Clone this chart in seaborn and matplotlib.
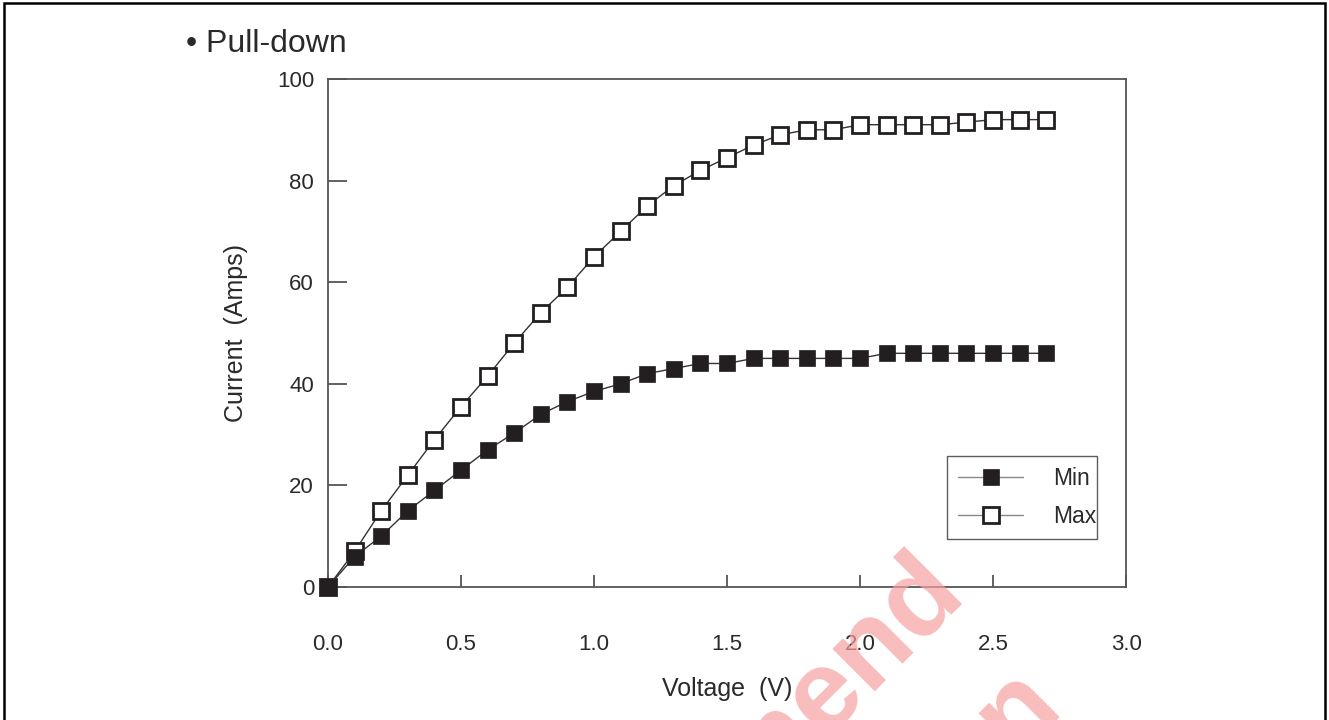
import matplotlib
matplotlib.use("Agg")
import matplotlib.pyplot as plt
import matplotlib.patches as mpatches
import seaborn as sns
import pandas as pd

# ---- data ----
voltage = [0.0, 0.1, 0.2, 0.3, 0.4, 0.5, 0.6, 0.7, 0.8, 0.9, 1.0, 1.1, 1.2, 1.3,
           1.4, 1.5, 1.6, 1.7, 1.8, 1.9, 2.0, 2.1, 2.2, 2.3, 2.4, 2.5, 2.6, 2.7]
current_min = [0, 6, 10, 15, 19, 23, 27, 30.3, 34, 36.5, 38.5, 40, 42, 43,
               44, 44, 45, 45, 45, 45, 45, 46, 46, 46, 46, 46, 46, 46]
current_max = [0, 7, 15, 22, 29, 35.5, 41.5, 48, 54, 59, 65, 70, 75, 79,
               82, 84.5, 87, 89, 90, 90, 91, 91, 91, 91, 91.5, 92, 92, 92]
series_names = ["Min", "Max"]
x_ticks = [0.0, 0.5, 1.0, 1.5, 2.0, 2.5, 3.0]
x_tick_labels = ["0.0", "0.5", "1.0", "1.5", "2.0", "2.5", "3.0"]
y_ticks = [0, 20, 40, 60, 80, 100]
y_tick_labels = ["0", "20", "40", "60", "80", "100"]
title_text = "\u2022 Pull-down"
x_label = "Voltage  (V)"
y_label = "Current  (Amps)"

sns.set_theme(style="white")
plt.rcParams["font.family"] = ["Liberation Sans", "DejaVu Sans"]

TXT = "#2a2a2a"
SPINE = "#555555"

fig = plt.figure(figsize=(13.29, 7.2), dpi=100)
ax = fig.add_axes([0.2468, 0.1847, 0.8473 - 0.2468, 0.8903 - 0.1847])

df_min = pd.DataFrame({"V": voltage, "I": current_min})
df_max = pd.DataFrame({"V": voltage, "I": current_max})

sns.lineplot(data=df_min, x="V", y="I", ax=ax, color="#333333", linewidth=1.0,
             marker="s", markersize=12, markerfacecolor="#231f20",
             markeredgecolor="#231f20", markeredgewidth=0.5, label=series_names[0],
             zorder=3, clip_on=False)
sns.lineplot(data=df_max, x="V", y="I", ax=ax, color="#333333", linewidth=1.0,
             marker="s", markersize=12, markerfacecolor="white",
             markeredgecolor="#231f20", markeredgewidth=2.0, label=series_names[1],
             zorder=4, clip_on=False)
# keep the min marker at origin on top, as in the reference
ax.lines[0].set_zorder(5)

ax.set_xlim(0, 3.0)
ax.set_ylim(0, 100)
ax.set_xticks(x_ticks)
ax.set_xticklabels(x_tick_labels)
ax.set_yticks(y_ticks)
ax.set_yticklabels(y_tick_labels)

for s in ax.spines.values():
    s.set_color(SPINE)
    s.set_linewidth(1.3)
    s.set_visible(True)

ax.tick_params(axis="x", direction="in", length=8.5, width=1.3, color=SPINE,
               labelsize=16, labelcolor=TXT, pad=34, bottom=True)
ax.tick_params(axis="y", direction="in", length=13.5, width=1.3, color=SPINE,
               labelsize=16, labelcolor=TXT, pad=10, left=True)

ax.set_xlabel(x_label, fontsize=18, color=TXT, labelpad=16)
ax.set_ylabel(y_label, fontsize=18, color=TXT, labelpad=21)

leg = ax.legend(loc="lower left", bbox_to_anchor=(0.776, 0.094, 0.964 - 0.776, 0.256 - 0.094),
                mode="expand", frameon=True, fancybox=False, shadow=False,
                fontsize=16.5, handlelength=2.85, handletextpad=1.3, borderpad=0.47,
                labelspacing=0.68, borderaxespad=0)
leg.get_frame().set_edgecolor("#333333")
leg.get_frame().set_linewidth(1.0)
for t in leg.get_texts():
    t.set_color(TXT)
for h in leg.legend_handles:
    h.set_color("#888888")
    h.set_markeredgecolor("#231f20")

fig.text(0.14, 1 - 44 / 720, title_text, fontsize=23, color=TXT,
         ha="left", va="center")

# page frame (open at the bottom)
frame = mpatches.Rectangle((3.5 / 1329, -0.05), (1325 - 3.5) / 1329, 1.05 - 3 / 720,
                           transform=fig.transFigure, fill=False, edgecolor="black",
                           linewidth=1.8, clip_on=False)
fig.patches.append(frame)

# watermark
fig.text(968 / 1329, 1 - 598 / 720, "Not Recommend", fontsize=82, fontweight="bold",
         color="#f5a0a0", alpha=0.7, rotation=45, rotation_mode="anchor",
         ha="right", va="baseline", zorder=10)
fig.text(1065 / 1329, 1 - 712 / 720, "for New Design", fontsize=82, fontweight="bold",
         color="#f5a0a0", alpha=0.7, rotation=45, rotation_mode="anchor",
         ha="right", va="baseline", zorder=10)

fig.savefig("out.png", dpi=100)
